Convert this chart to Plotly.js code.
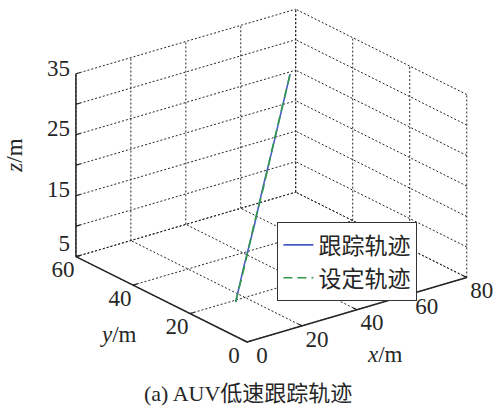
<!DOCTYPE html>
<html>
<head>
<meta charset="utf-8">
<script src="https://cdn.plot.ly/plotly-3.0.1.min.js"></script>
<style>html,body{margin:0;padding:0;background:#fff;}#plot{width:494px;height:409px;}</style>
</head>
<body>
<div id="plot"></div>
<script>
// ---- Data ----
// Tracked trajectory (跟踪轨迹)
const trackX = [15.8, 21.3, 26.9, 32.3, 37.9, 43.4, 48.9];
const trackY = [19.2, 21.4, 23.4, 25.6, 27.7, 29.8, 32.0];
const trackZ = [5, 10, 15, 20, 25, 30, 35];
// Set trajectory (设定轨迹)
const setX = [15.8, 21.4, 26.8, 32.4, 37.8, 43.5, 48.9];
const setY = [19.2, 21.3, 23.5, 25.5, 27.7, 29.9, 32.0];
const setZ = [5, 10, 15, 20, 25, 30, 35];

const seriesNames = ['跟踪轨迹', '设定轨迹'];
const xTicks = [0, 20, 40, 60, 80];
const yTicks = [0, 20, 40, 60];
const zTicks = [5, 10, 15, 20, 25, 30, 35];
const zTickLabels = ['5', '', '15', '', '25', '', '35'];
const xRange = [0, 80], yRange = [0, 60], zRange = [5, 35];

// ---- 3D view (MATLAB-style azimuth / elevation, orthographic) ----
const AZ = -37.5 * Math.PI / 180, EL = 22.5 * Math.PI / 180;
const BOX = [277, 281, 198]; // screen length of each normalized axis

function proj(x, y, z) {
  const X = (x - xRange[0]) / (xRange[1] - xRange[0]) * BOX[0];
  const Y = (y - yRange[0]) / (yRange[1] - yRange[0]) * BOX[1];
  const Z = (z - zRange[0]) / (zRange[1] - zRange[0]) * BOX[2];
  const u = X * Math.cos(AZ) + Y * Math.sin(AZ);
  const v = Math.sin(EL) * (-X * Math.sin(AZ) + Y * Math.cos(AZ)) + Z * Math.cos(EL);
  return [u, v];
}
function segTrace(segs, line) {
  const u = [], v = [];
  segs.forEach(s => {
    const a = proj(...s[0]), b = proj(...s[1]);
    u.push(a[0], b[0], null); v.push(a[1], b[1], null);
  });
  return {type: 'scatter', mode: 'lines', x: u, y: v, line: line,
          hoverinfo: 'skip', showlegend: false, connectgaps: false};
}
function curve(xs, ys, zs) {
  const u = [], v = [];
  xs.forEach((_, i) => { const p = proj(xs[i], ys[i], zs[i]); u.push(p[0]); v.push(p[1]); });
  return {u, v};
}

const [x0, x1] = xRange, [y0, y1] = yRange, [z0, z1] = zRange;
// grid on floor (z=z0), back wall y=y1, back wall x=x1
const grid = [];
xTicks.forEach(t => { grid.push([[t, y0, z0], [t, y1, z0]]); grid.push([[t, y1, z0], [t, y1, z1]]); });
yTicks.forEach(t => { grid.push([[x0, t, z0], [x1, t, z0]]); grid.push([[x1, t, z0], [x1, t, z1]]); });
zTicks.forEach(t => { grid.push([[x0, y1, t], [x1, y1, t]]); grid.push([[x1, y0, t], [x1, y1, t]]); });

const axes = [
  [[x0, y0, z0], [x1, y0, z0]],
  [[x0, y0, z0], [x0, y1, z0]],
  [[x0, y1, z0], [x0, y1, z1]]
];
const tks = [];
xTicks.forEach(t => tks.push([[t, y0, z0], [t, y0 + 1.3, z0]]));
yTicks.forEach(t => tks.push([[x0, t, z0], [x0 + 1.6, t, z0]]));
zTicks.forEach(t => tks.push([[x0, y1, t], [x0 + 1.6, y1, t]]));

const ink = '#262626';
const serif = 'Liberation Serif';
const cjk = 'Liberation Serif, Noto Sans CJK SC';

function labelTrace(pts, texts, du, dvFn, pos) {
  const u = [], v = [];
  pts.forEach(p => { const q = proj(...p); u.push(q[0] + du); v.push(q[1] + dvFn(p)); });
  return {type: 'scatter', mode: 'text', x: u, y: v, text: texts, textposition: pos,
          textfont: {family: serif, size: 23, color: ink}, hoverinfo: 'skip', showlegend: false, cliponaxis: false};
}

const tr = curve(trackX, trackY, trackZ);
const st = curve(setX, setY, setZ);

const data = [
  segTrace(grid, {color: ink, width: 1, dash: '2px,2px'}),
  segTrace(axes, {color: ink, width: 1.5}),
  segTrace(tks, {color: ink, width: 1.2}),
  labelTrace(xTicks.map(t => [t, y0, z0]), xTicks.map(String), 15, () => -15, 'middle center'),
  labelTrace(yTicks.map(t => [x0, t, z0]), yTicks.map(String), -13, () => -15, 'middle center'),
  // the lowest z label is lifted a little so it clears the y-axis label below it (as in the reference)
  labelTrace(zTicks.map(t => [x0, y1, t]), zTickLabels, -6, p => (p[2] === z0 ? 11 : 4), 'middle left'),
  {type: 'scatter', mode: 'lines', name: seriesNames[0], x: tr.u, y: tr.v,
   line: {color: '#4a5cc6', width: 1.6}, hoverinfo: 'skip'},
  {type: 'scatter', mode: 'lines', name: seriesNames[1], x: st.u, y: st.v,
   line: {color: '#2f9a45', width: 1.6, dash: '9px,5px'}, hoverinfo: 'skip'}
];

const ann = (x, y, text, extra) => Object.assign({xref: 'paper', yref: 'paper', x, y, text,
  showarrow: false, xanchor: 'center', yanchor: 'middle',
  font: {family: serif, size: 23, color: ink}}, extra || {});

const layout = {
  width: 494, height: 409,
  margin: {l: 0, r: 0, t: 0, b: 0},
  paper_bgcolor: '#fff', plot_bgcolor: '#fff',
  xaxis: {range: [-247, 247], visible: false, fixedrange: true},
  yaxis: {range: [-67, 342], visible: false, fixedrange: true},
  showlegend: true,
  legend: {x: 0.561, y: 0.457, xanchor: 'left', yanchor: 'top',
           bgcolor: '#fff', bordercolor: '#333', borderwidth: 1.3,
           font: {family: cjk, size: 23, color: ink}, tracegroupgap: 0, itemwidth: 30},
  annotations: [
    ann(0.030, 0.619, '<i>z</i>/m', {textangle: -90}),
    ann(0.239, 0.183, '<i>y</i>/m'),
    ann(0.779, 0.134, '<i>x</i>/m'),
    ann(0.502, 0.039, '(a) AUV低速跟踪轨迹', {font: {family: cjk, size: 22, color: ink}})
  ]
};

Plotly.newPlot('plot', data, layout, {displayModeBar: false, staticPlot: true});
</script>
</body>
</html>
